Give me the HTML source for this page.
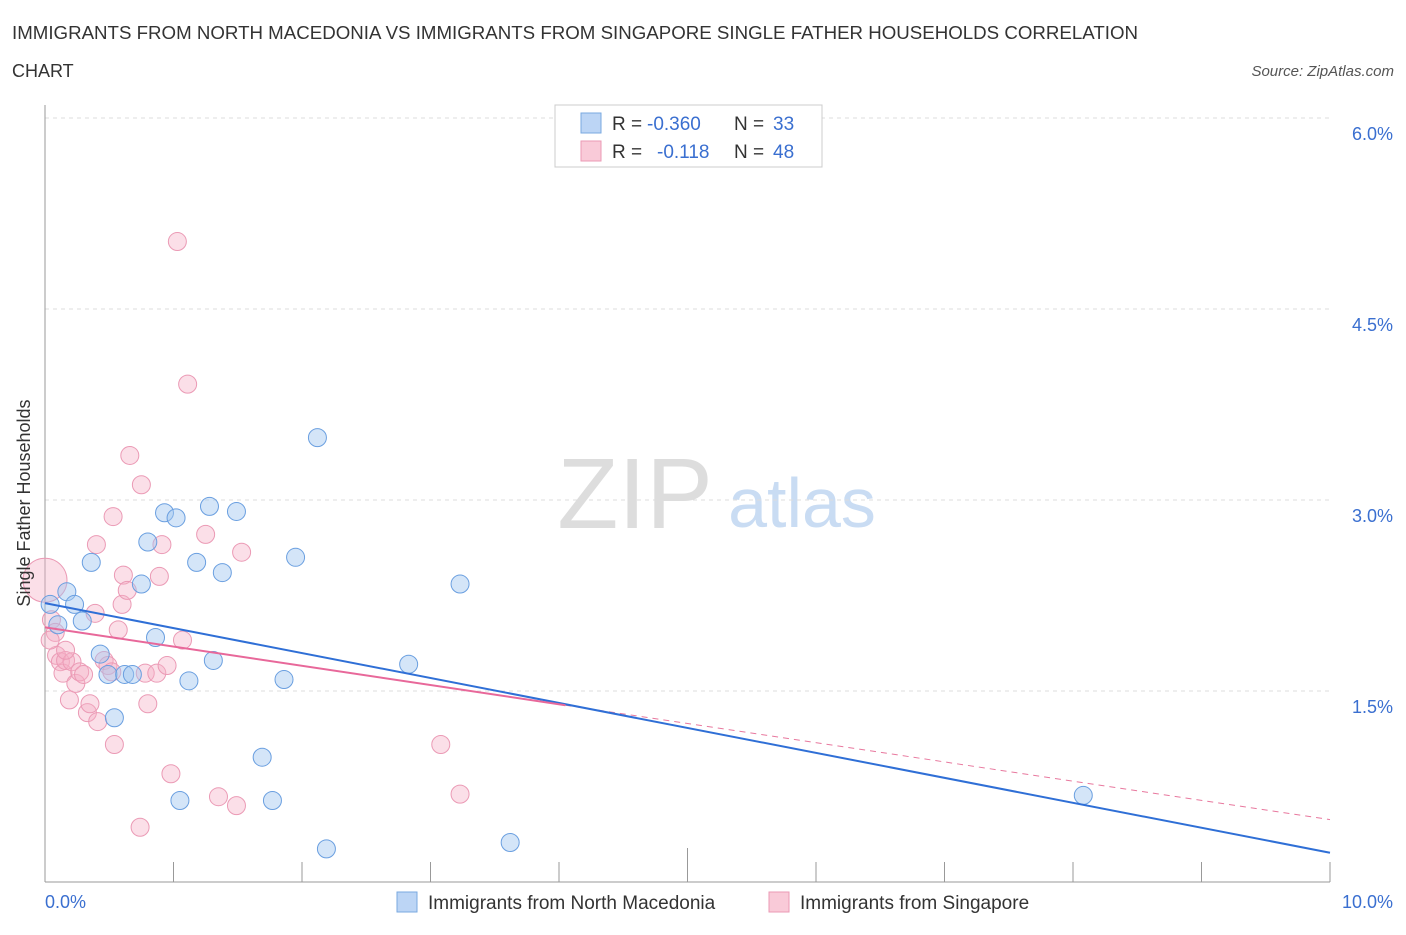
<!DOCTYPE html>
<html><head><meta charset="utf-8"><style>
body{margin:0;background:#fff;font-family:"Liberation Sans",sans-serif;}
svg text{font-family:"Liberation Sans",sans-serif;}
</style></head><body>
<svg width="1406" height="930" xmlns="http://www.w3.org/2000/svg">
<text x="12" y="39" font-size="18.6" fill="#333" textLength="1126" lengthAdjust="spacingAndGlyphs">IMMIGRANTS FROM NORTH MACEDONIA VS IMMIGRANTS FROM SINGAPORE SINGLE FATHER HOUSEHOLDS CORRELATION</text>
<text x="12" y="77" font-size="18" fill="#333">CHART</text>
<text x="1394" y="76" font-size="15" fill="#555" font-style="italic" text-anchor="end">Source: ZipAtlas.com</text>
<text x="635" y="528" font-size="100" fill="#ddd" font-family="Liberation Serif" text-anchor="middle">ZIP</text>
<text x="802" y="527" font-size="70" fill="#c9dcf3" text-anchor="middle">atlas</text>
<g id="grid"></g>
<g id="axes"></g>
<g id="marks"></g>
<g>
<rect x="555" y="105" width="267" height="62" fill="#fff" stroke="#ccc"/>
<rect x="581" y="113" width="20" height="20" fill="#bcd5f5" stroke="#7aa9e0"/>
<text x="612" y="130" font-size="19" fill="#333">R =</text>
<text x="647" y="130" font-size="19" fill="#3a6fd0">-0.360</text>
<text x="734" y="130" font-size="19" fill="#333">N =</text>
<text x="773" y="130" font-size="19" fill="#3a6fd0">33</text>
<rect x="581" y="141" width="20" height="20" fill="#f9cad8" stroke="#eb9ab5"/>
<text x="612" y="158" font-size="19" fill="#333">R =</text>
<text x="657" y="158" font-size="19" fill="#3a6fd0">-0.118</text>
<text x="734" y="158" font-size="19" fill="#333">N =</text>
<text x="773" y="158" font-size="19" fill="#3a6fd0">48</text>
</g>
<g>
<rect x="397" y="892" width="20" height="20" fill="#bcd5f5" stroke="#7aa9e0"/>
<text x="428" y="909" font-size="19" fill="#333">Immigrants from North Macedonia</text>
<rect x="769" y="892" width="20" height="20" fill="#f9cad8" stroke="#eb9ab5"/>
<text x="800" y="909" font-size="19" fill="#333">Immigrants from Singapore</text>
</g>
<text x="22" y="495" font-size="18" fill="#333" transform="rotate(-90 30 495)" text-anchor="middle">Single Father Households</text>
</svg>
<script>
const yTicks=[1.5,3.0,4.5,6.0];
const xTickLabels=["0.0%","10.0%"];
const blueX=[.04,.10,.17,.23,.29,.36,.43,.49,.54,.62,.68,.75,.80,.86,.93,1.02,1.05,1.12,1.18,1.28,1.31,1.38,1.49,1.69,1.77,1.86,1.95,2.12,2.19,2.83,3.23,3.62,8.08];
const blueY=[2.18,2.02,2.28,2.18,2.05,2.51,1.79,1.63,1.29,1.63,1.63,2.34,2.67,1.92,2.90,2.86,0.64,1.58,2.51,2.95,1.74,2.43,2.91,0.98,0.64,1.59,2.55,3.49,0.26,1.71,2.34,0.31,0.68];
const pinkX=[0,.05,.08,.09,.12,.14,.16,.19,.21,.24,.27,.30,.33,.35,.39,.40,.41,.46,.49,.52,.53,.54,.57,.60,.61,.64,.66,.74,.75,.78,.80,.87,.89,.91,.95,.98,1.03,1.07,1.11,1.25,1.35,1.49,1.53,3.08,3.23,.04,.16];
const pinkY=[2.37,2.06,1.96,1.78,1.73,1.64,1.74,1.43,1.73,1.56,1.65,1.63,1.33,1.40,2.11,2.65,1.26,1.74,1.70,1.65,2.87,1.08,1.98,2.18,2.41,2.29,3.35,0.43,3.12,1.64,1.40,1.64,2.40,2.65,1.70,0.85,5.03,1.90,3.91,2.73,0.67,0.60,2.59,1.08,0.69,1.90,1.82];
const blueTrend=[2.19,0.23];
const pinkTrend=[2.00,0.49];
const pinkSolidEnd=4.05;
const NS="http://www.w3.org/2000/svg";
const X=v=>45+v*128.5, Y=v=>882-v*127.33;
function mk(tag,attrs,parent){const e=document.createElementNS(NS,tag);for(const k in attrs)e.setAttribute(k,attrs[k]);document.getElementById(parent).appendChild(e);return e;}
for(const t of yTicks){
 const l=mk('line',{x1:45,x2:1330,y1:Y(t),y2:Y(t),stroke:'#ddd','stroke-dasharray':'4,4'},'grid');
 
 
 const tx=mk('text',{x:1393,y:Y(t)+22,'font-size':18,fill:'#3a6fd0','text-anchor':'end'},'grid');
 tx.textContent=t.toFixed(1)+'%';
 
 
}
const ax=mk('line',{x1:45,x2:45,y1:105,y2:882,stroke:'#999'},'axes');


const bx=mk('line',{x1:45,x2:1330,y1:882,y2:882,stroke:'#999'},'axes');


for(let i=0;i<=10;i++){
 const t=mk('line',{x1:X(i),x2:X(i),y1:i==5?848:862,y2:882,stroke:'#999'},'axes');
 
 
}
[[0,'start',45],[10,'end',1393]].forEach((p,i)=>{
 const t=mk('text',{x:p[2],y:908,'font-size':18,fill:'#3a6fd0','text-anchor':p[1]},'axes');
 t.textContent=xTickLabels[i];
 
 
});
pinkX.forEach((x,i)=>{
 const c=mk('circle',{cx:X(x),cy:Y(pinkY[i]),r:i==0?22:9,fill:'rgba(245,175,198,0.4)',stroke:'#eb9ab5','stroke-width':1},'marks');
 
 
});
blueX.forEach((x,i)=>{
 const c=mk('circle',{cx:X(x),cy:Y(blueY[i]),r:9,fill:'rgba(160,198,240,0.45)',stroke:'#6a9fe0','stroke-width':1},'marks');
 
 
});
const pAt=x=>pinkTrend[0]+(pinkTrend[1]-pinkTrend[0])*x/10;
const pd=mk('line',{x1:X(pinkSolidEnd),y1:Y(pAt(pinkSolidEnd)),x2:X(10),y2:Y(pinkTrend[1]),stroke:'#e8789e','stroke-width':1,'stroke-dasharray':'6,5'},'marks');


const bl=mk('line',{x1:X(0),y1:Y(blueTrend[0]),x2:X(10),y2:Y(blueTrend[1]),stroke:'#2f6fd6','stroke-width':2},'marks');


const pl=mk('line',{x1:X(0),y1:Y(pinkTrend[0]),x2:X(pinkSolidEnd),y2:Y(pAt(pinkSolidEnd)),stroke:'#e8689a','stroke-width':2},'marks');


</script>
</body></html>
